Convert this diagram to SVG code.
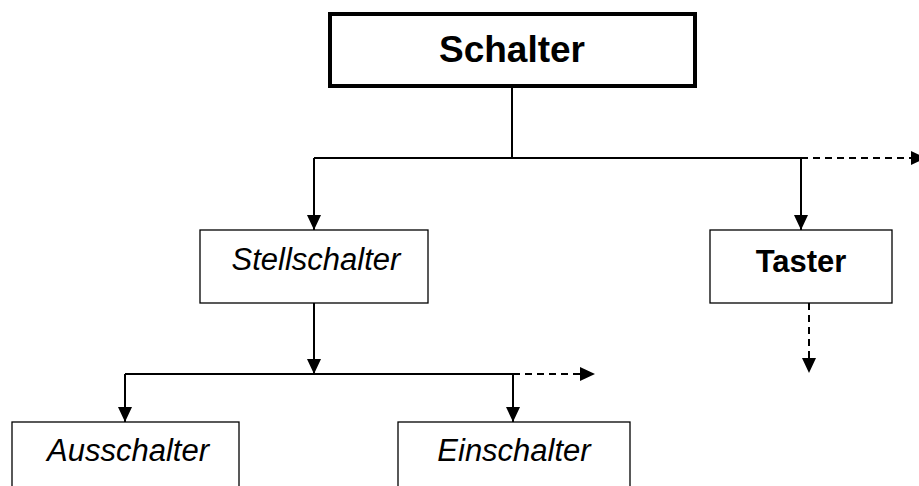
<svg xmlns="http://www.w3.org/2000/svg" width="919" height="486" viewBox="0 0 919 486">
  <defs>
    <marker id="arr" markerUnits="userSpaceOnUse" markerWidth="15" markerHeight="14" refX="15" refY="7" orient="auto">
      <path d="M0,0 L15,7 L0,14 z" fill="#000"/>
    </marker>
  </defs>
  <style>
    .box { fill: #fff; stroke: #000; stroke-width: 1.3; }
    .main { fill: #fff; stroke: #000; stroke-width: 4; }
    .lbl { font-family: "Liberation Sans", Arial, sans-serif; fill: #000; text-anchor: middle; }
    .it { font-style: italic; font-size: 31px; }
    .bd { font-weight: bold; }
    .ln { fill: none; stroke: #000; stroke-width: 2; }
    .dash { stroke-dasharray: 7 5; }
  </style>
  <rect width="919" height="486" fill="#fff"/>
  <g id="connectors">
    <path class="ln" d="M512,88 V158"/>
    <path class="ln" d="M314,158 H801"/>
    <path class="ln" d="M314,158 V230" marker-end="url(#arr)"/>
    <path class="ln" d="M801,158 V230" marker-end="url(#arr)"/>
    <path class="ln dash" d="M801,158 H926" marker-end="url(#arr)"/>
    <path class="ln" d="M314,303 V374" marker-end="url(#arr)"/>
    <path class="ln" d="M125,374 H513"/>
    <path class="ln" d="M125,374 V422" marker-end="url(#arr)"/>
    <path class="ln" d="M513,374 V422" marker-end="url(#arr)"/>
    <path class="ln dash" d="M513,374 H595" marker-end="url(#arr)"/>
    <path class="ln dash" d="M809,303 V373" marker-end="url(#arr)"/>
  </g>
  <g id="schalter">
    <rect class="main" x="330" y="14" width="365" height="72"/>
    <text class="lbl bd" x="512" y="62" font-size="37">Schalter</text>
  </g>
  <g id="stellschalter">
    <rect class="box" x="200" y="230" width="228" height="73"/>
    <text class="lbl it" x="316" y="270">Stellschalter</text>
  </g>
  <g id="taster">
    <rect class="box" x="710" y="230" width="182" height="73"/>
    <text class="lbl bd" x="801" y="272" font-size="31">Taster</text>
  </g>
  <g id="ausschalter">
    <rect class="box" x="12" y="422" width="227" height="80"/>
    <text class="lbl it" x="128" y="461">Ausschalter</text>
  </g>
  <g id="einschalter">
    <rect class="box" x="398" y="422" width="232" height="80"/>
    <text class="lbl it" x="514" y="461">Einschalter</text>
  </g>
</svg>
